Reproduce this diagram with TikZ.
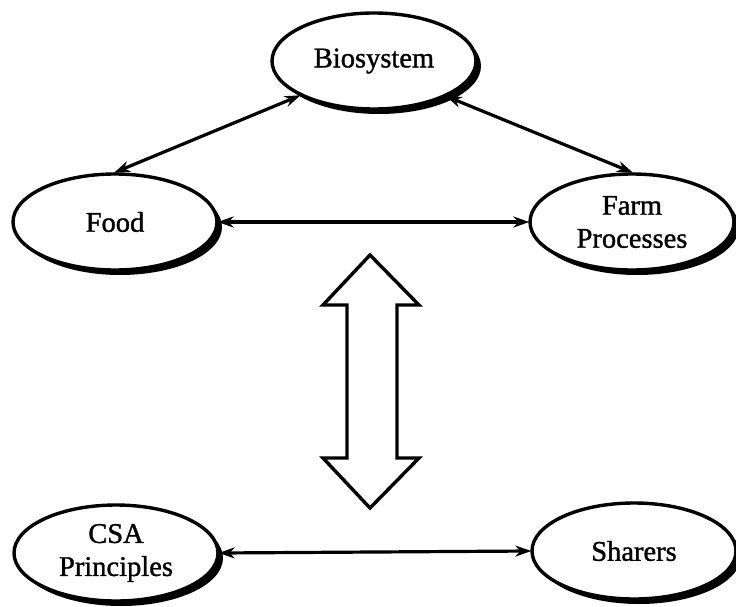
\documentclass[tikz,border=0pt]{standalone}
\usepackage{fontspec}
\setmainfont{Liberation Serif}
\newfontfamily\heavyserif{Liberation Serif}[FakeBold=1.2]
\usetikzlibrary{shapes.geometric,arrows.meta,shadows}
\begin{document}
\begin{tikzpicture}[x=1pt,y=-1pt,
  bubble/.style={ellipse, draw=black, line width=3.4pt, fill=white,
    minimum width=204pt, minimum height=96pt, inner sep=0pt, align=center,
    font=\heavyserif\fontsize{28.5}{33}\selectfont,
    drop shadow={shadow xshift=5pt, shadow yshift=-5pt, fill=black, opacity=1}},
  link/.style={line width=3.2pt, {Stealth[length=16pt,width=11pt]}-{Stealth[length=16pt,width=11pt]}, shorten <=-1pt, shorten >=-1pt},
  bigarrow/.style={draw=black, line width=3.4pt, fill=white, line join=miter}]
\useasboundingbox (0,0) rectangle (736,607);
\node[bubble] (bio) at (374,61) {Biosystem};
\node[bubble] (food) at (115,222) {Food};
\node[bubble] (farm) at (632,222) {Farm\\Processes};
\node[bubble] (csa) at (116,553) {CSA\\Principles};
\node[bubble] (share) at (634,551) {Sharers};
\draw[link] (bio.205) -- (food.north);
\draw[link] (bio.334) -- (farm.north);
\draw[link] (food.east) -- (farm.west);
\draw[link] (csa.east) -- (share.west);
\draw[bigarrow] (370,255) -- (419,305) -- (397,305) -- (397,458) -- (419,458) -- (370,508)
  -- (323,458) -- (347,458) -- (347,305) -- (323,305) -- cycle;
\end{tikzpicture}
\end{document}
